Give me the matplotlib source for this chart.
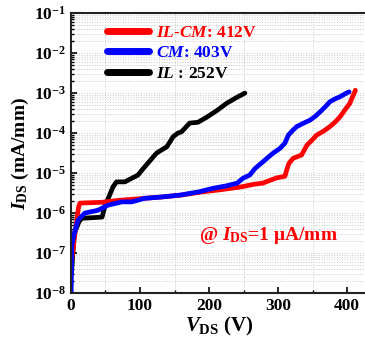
import numpy as np
import matplotlib
matplotlib.use("Agg")
import matplotlib.pyplot as plt
from matplotlib.ticker import FixedLocator, FuncFormatter, NullFormatter, LogLocator

plt.rcParams['font.family'] = ['Liberation Serif', 'DejaVu Serif']
plt.rcParams['font.weight'] = 'bold'
plt.rcParams['mathtext.fontset'] = 'custom'
plt.rcParams['mathtext.rm'] = 'Liberation Serif:bold'
plt.rcParams['mathtext.it'] = 'Liberation Serif:bold:italic'
plt.rcParams['mathtext.bf'] = 'Liberation Serif:bold'

# ---- data (V_DS in V, log10 of I_DS in mA/mm) ----
ilcm_v = [1, 5, 9, 11, 13, 45, 70, 107, 130, 160, 190, 215, 245, 265, 278, 298, 310, 313, 316,
          322, 334, 342, 349, 356, 366, 375, 383, 390, 397, 404, 408, 411, 412]
ilcm_log = [-7.2, -6.6, -6.1, -5.85, -5.75, -5.73, -5.68, -5.63, -5.6, -5.55, -5.47, -5.42, -5.35,
            -5.28, -5.25, -5.12, -5.08, -4.9, -4.75, -4.63, -4.55, -4.3, -4.18, -4.05, -3.95, -3.84,
            -3.72, -3.59, -3.42, -3.26, -3.09, -2.98, -2.93]

cm_v = [0.3, 1, 6, 10, 20, 39, 54, 74, 88, 107, 130, 158, 185, 206, 225, 241, 249, 259, 267, 276, 284,
        293, 303, 310, 315, 322, 327, 336, 346, 354, 361, 368, 375, 382, 390, 397, 403]
cm_log = [-8.0, -6.8, -6.43, -6.18, -6.0, -5.93, -5.8, -5.72, -5.72, -5.63, -5.6, -5.55, -5.47, -5.38,
          -5.32, -5.25, -5.13, -5.05, -4.88, -4.75, -4.63, -4.5, -4.38, -4.25, -4.05, -3.92, -3.84,
          -3.76, -3.68, -3.58, -3.47, -3.35, -3.22, -3.15, -3.09, -3.02, -2.97]

il_v = [0.5, 5, 12, 16, 45, 49, 54, 61, 66, 78, 88, 97, 104, 114, 124, 139, 148, 155, 160,
        172, 184, 197, 212, 226, 241, 252]
il_log = [-7.5, -6.5, -6.2, -6.13, -6.1, -5.84, -5.63, -5.34, -5.22, -5.22, -5.13, -5.05, -4.9, -4.7,
          -4.5, -4.34, -4.09, -4.0, -3.97, -3.75, -3.73, -3.6, -3.43, -3.25, -3.1, -3.0]

x_ticks = [0, 100, 200, 300, 400]
x_grid = [50, 150, 250, 350]

fig = plt.figure(figsize=(3.65, 3.44), dpi=100)
ax = fig.add_axes([0.1945, 0.148, 0.813, 0.814])

lw = 3.4
ax.plot(il_v, 10 ** np.array(il_log), color='black', lw=lw, solid_capstyle='round',
        label=r'$IL$ : 252V')
ax.plot(ilcm_v, 10 ** np.array(ilcm_log), color='#ff0000', lw=lw, solid_capstyle='round',
        label=r'$IL$-$CM$: 412V')
ax.plot(cm_v, 10 ** np.array(cm_log), color='#0000ff', lw=lw, solid_capstyle='round',
        label=r'$CM$: 403V')

ax.set_yscale('log')
ax.set_xlim(0, 430)
ax.set_ylim(1e-8, 1e-1)

ax.xaxis.set_major_locator(FixedLocator(x_ticks))
ax.xaxis.set_minor_locator(FixedLocator(x_grid))
ax.yaxis.set_major_locator(LogLocator(base=10, numticks=20))
ax.yaxis.set_minor_locator(LogLocator(base=10, subs=np.arange(2, 10), numticks=20))
ax.yaxis.set_major_formatter(FuncFormatter(lambda v, p: r'$10^{%d}$' % int(round(np.log10(v)))))
ax.yaxis.set_minor_formatter(NullFormatter())

ax.tick_params(which='both', direction='in', labelsize=12.5, top=False, right=False)
ax.tick_params(which='major', length=4, width=1.2)
ax.tick_params(which='minor', length=2.5, width=1.0)
for lab in ax.get_xticklabels() + ax.get_yticklabels():
    lab.set_fontweight('bold')

for s in ax.spines.values():
    s.set_linewidth(1.5)
    s.set_color('#222222')

ax.grid(True, which='both', axis='y', linestyle=':', color='#c8c8c8', lw=0.7)
ax.grid(True, which='minor', axis='x', linestyle=':', color='#c8c8c8', lw=0.7)
ax.set_axisbelow(True)

ax.set_xlabel(r'$V_{\rm DS}$ (V)', fontsize=15, fontweight='bold', labelpad=1)
ax.set_ylabel(r'$I_{\rm DS}$ (mA/mm)', fontsize=14, fontweight='bold', labelpad=2)

handles, labels = ax.get_legend_handles_labels()
order = [1, 2, 0]
leg = ax.legend([handles[i] for i in order], [labels[i] for i in order], loc='upper left',
                bbox_to_anchor=(0.07, 1.015), frameon=False, handlelength=2.4,
                handletextpad=0.4, labelspacing=0.25, prop={'weight': 'bold', 'size': 12.5})
for t, c in zip(leg.get_texts(), ['#ff0000', '#0000ff', 'black']):
    t.set_color(c)
for h in leg.legend_handles:
    h.set_linewidth(5)

ax.text(0.43, 0.205, r'@ $I_{\rm DS}$=1 μA/mm', transform=ax.transAxes, color='#ff0000',
        fontsize=14, fontweight='bold', ha='left', va='center')

fig.savefig('out.png', dpi=100)
